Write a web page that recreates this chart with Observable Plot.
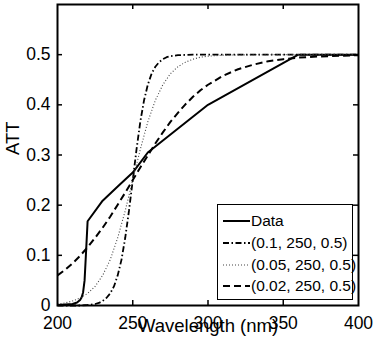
<!DOCTYPE html>
<html>
<head>
<meta charset="utf-8">
<script src="https://cdn.jsdelivr.net/npm/d3@7"></script>
<script src="https://cdn.jsdelivr.net/npm/@observablehq/plot@0.6"></script>
<style>
  html, body { margin: 0; padding: 0; background: #fff; }
  #wrap { position: relative; width: 374px; height: 355px; font-family: "Liberation Sans", Arial, Helvetica, sans-serif; }
  #legend { position: absolute; left: 217px; top: 204px; width: 136px; height: 96px; box-sizing: border-box; border: 1.3px solid #000; background: #fff; }
  .row { position: absolute; left: 0; height: 20px; display: flex; align-items: center; font-size: 15.5px; color: #000; white-space: nowrap; }
  .row svg { margin-left: 5px; margin-right: 1px; }
</style>
</head>
<body>
<div id="wrap"></div>
<script>
// ---- data ----
const xTicks = [200, 250, 300, 350, 400];
const yTicks = [0, 0.1, 0.2, 0.3, 0.4, 0.5];
const xLabel = "Wavelength (nm)";
const yLabel = "ATT";

const dataX = [200, 205, 210, 213, 215, 216, 217, 218, 219, 220, 230, 240, 250, 260, 300, 360, 400];
const dataY = [0.001, 0.002, 0.003, 0.006, 0.011, 0.016, 0.026, 0.05, 0.108, 0.168, 0.209, 0.237, 0.265, 0.305, 0.400, 0.500, 0.500];

const fit1X = [200, 205, 210, 215, 220, 225, 227.5, 230, 232.5, 235, 237.5, 240, 242.5, 245, 247.5, 250, 252.5, 255, 257.5, 260, 262.5, 265, 267.5, 270, 272.5, 275, 280, 285, 290, 300, 400];
const fit1Y = [0, 0, 0, 0, 0.001, 0.003, 0.005, 0.009, 0.015, 0.024, 0.038, 0.060, 0.091, 0.135, 0.189, 0.250, 0.311, 0.366, 0.409, 0.440, 0.462, 0.476, 0.485, 0.491, 0.495, 0.497, 0.499, 0.4995, 0.5, 0.5, 0.5];

const fit2X = [200, 205, 210, 215, 220, 225, 230, 235, 240, 245, 250, 255, 260, 265, 270, 275, 280, 285, 290, 295, 300, 310, 320, 340, 400];
const fit2Y = [0.003, 0.005, 0.009, 0.015, 0.024, 0.038, 0.060, 0.091, 0.135, 0.189, 0.250, 0.311, 0.366, 0.409, 0.440, 0.462, 0.476, 0.485, 0.491, 0.495, 0.497, 0.499, 0.4995, 0.5, 0.5];

const fit3X = [200, 205, 210, 215, 220, 225, 230, 235, 240, 245, 250, 255, 260, 265, 270, 275, 280, 285, 290, 295, 300, 310, 320, 330, 340, 350, 360, 370, 380, 390, 400];
const fit3Y = [0.060, 0.071, 0.084, 0.099, 0.116, 0.135, 0.155, 0.177, 0.201, 0.225, 0.250, 0.275, 0.299, 0.323, 0.345, 0.366, 0.384, 0.401, 0.416, 0.429, 0.440, 0.458, 0.471, 0.480, 0.487, 0.491, 0.494, 0.496, 0.497, 0.498, 0.499];

const seriesNames = ["Data", "(0.1, 250, 0.5)", "(0.05, 250, 0.5)", "(0.02, 250, 0.5)"];
const seriesDash = ["none", "6,2.5,1.5,2.5", "1,2", "7,4"];
const seriesWidth = [2, 1.8, 1.1, 2];
const seriesColor = ["#000", "#000", "#444", "#000"];

// ---- build ----
const xs = [dataX, fit1X, fit2X, fit3X];
const ys = [dataY, fit1Y, fit2Y, fit3Y];
const rows = xs.map((X, i) => X.map((x, j) => ({x, y: ys[i][j], s: i})));

const W = 374, H = 355;
const mL = 57, mR = 16, mT = 4, mB = 50;
const fw = W - mL - mR, fh = H - mT - mB;
const fs = 17.5;

const lineMarks = rows.map((r, i) => Plot.line(r, {
  x: "x", y: "y", stroke: seriesColor[i], strokeWidth: seriesWidth[i],
  strokeDasharray: seriesDash[i] === "none" ? undefined : seriesDash[i],
  strokeLinejoin: "miter", strokeLinecap: "butt"
}));

const innerX = xTicks.slice(1, -1);
const innerY = yTicks.slice(1);

const chart = Plot.plot({
  width: W, height: H,
  marginLeft: mL, marginRight: mR, marginTop: mT, marginBottom: mB,
  style: {fontFamily: '"Liberation Sans", Arial, Helvetica, sans-serif', background: "#fff", color: "#000"},
  x: {domain: [200, 400]},
  y: {domain: [0, 0.6]},
  marks: [
    ...lineMarks,
    Plot.ruleX(innerX, {x: d => d, insetTop: fh - 5, strokeWidth: 1.5}),
    Plot.ruleX(innerX, {x: d => d, insetBottom: fh - 5, strokeWidth: 1.5}),
    Plot.ruleY(innerY, {y: d => d, insetRight: fw - 5, strokeWidth: 1.5}),
    Plot.ruleY(innerY, {y: d => d, insetLeft: fw - 5, strokeWidth: 1.5}),
    Plot.frame({stroke: "#000", strokeWidth: 2}),
    Plot.axisX({ticks: xTicks, tickSize: 0, tickPadding: 11, fontSize: fs, label: null}),
    Plot.axisY({ticks: yTicks, tickSize: 0, tickPadding: 7, fontSize: fs, label: null,
      tickFormat: d => d === 0 ? "0" : d.toFixed(1)}),
    Plot.text([xLabel], {text: d => d, frameAnchor: "bottom", dy: 26, fontSize: 18.5}),
    Plot.text([yLabel], {text: d => d, frameAnchor: "left", dx: -44.5, rotate: -90, fontSize: 18.5})
  ]
});

const wrap = document.getElementById("wrap");
wrap.appendChild(chart);

// legend (inside the axes, bottom-right)
const legend = document.createElement("div");
legend.id = "legend";
const rowTops = [6, 28, 49.5, 71];
seriesNames.forEach((name, i) => {
  const row = document.createElement("div");
  row.className = "row";
  row.style.top = rowTops[i] + "px";
  const dash = seriesDash[i] === "none" ? "" : `stroke-dasharray="${seriesDash[i]}"`;
  row.innerHTML = `<svg width="27" height="6"><line x1="0" y1="3" x2="27" y2="3" stroke="${seriesColor[i]}" stroke-width="${seriesWidth[i]}" ${dash}/></svg><span>${name}</span>`;
  legend.appendChild(row);
});
wrap.appendChild(legend);
</script>
</body>
</html>
